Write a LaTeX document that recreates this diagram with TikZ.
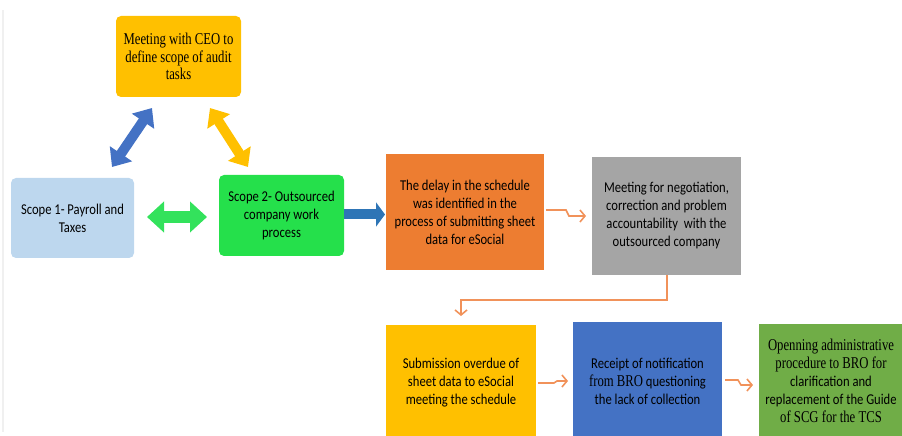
\documentclass[tikz,border=0pt]{standalone}
\usepackage{fontspec}
\setmainfont{Carlito}[FakeStretch=0.84]
\newfontfamily\tnrfont{Liberation Serif}[FakeStretch=0.77]
\newcommand\tnr{\tnrfont\fontsize{16.5}{17.5}\selectfont}
\usetikzlibrary{arrows.meta}

\definecolor{ceoYellow}{HTML}{FFC000}
\definecolor{scopeBlue}{HTML}{BDD7EE}
\definecolor{scopeGreen}{HTML}{25E04B}
\definecolor{pairGreen}{HTML}{33E25C}
\definecolor{diagBlue}{HTML}{4472C4}
\definecolor{arrowBlue}{HTML}{2E75B6}
\definecolor{delayOrange}{HTML}{ED7D31}
\definecolor{meetGray}{HTML}{A5A5A5}
\definecolor{receiptBlue}{HTML}{4472C4}
\definecolor{openGreen}{HTML}{70AD47}
\definecolor{linkOrange}{RGB}{241,146,90}

\tikzset{
  card/.style={align=center, inner sep=2pt, outer sep=0pt,
    font=\fontsize{15}{18}\selectfont},
  fat/.style={draw=#1, line width=10pt,
    {Triangle[length=16pt,width=26pt]}-{Triangle[length=16pt,width=26pt]}},
  link/.style={draw=linkOrange, line width=1.6pt,
    -{Straight Barb[length=5pt,width=12pt]}}
}

\begin{document}
\begin{tikzpicture}[x=1pt,y=1pt]
    \useasboundingbox (0,0) rectangle (902,436);
    \clip (0,0) rectangle (902,436);
    \draw[black!6, line width=1.5pt] (3,4) -- (3,426);

    \node[card, rounded corners=5pt, fill=ceoYellow, minimum width=125pt, minimum height=81pt, font=\tnr] (ceo) at (178.5,379.5) {Meeting with CEO to\\define scope of audit\\tasks};
    \node[card, rounded corners=5pt, fill=scopeBlue, minimum width=123pt, minimum height=80pt] (scope1) at (72.5,218) {Scope 1- Payroll and\\Taxes};
    \node[card, rounded corners=5pt, fill=scopeGreen, minimum width=125pt, minimum height=81pt] (scope2) at (281.5,220.5) {Scope 2- Outsourced\\company work\\process};

    \node[card, fill=delayOrange, minimum width=158pt, minimum height=116pt] (delay) at (465,224) {The delay in the schedule\\was identified in the\\process of submitting sheet\\data for eSocial};
    \node[card, fill=meetGray, minimum width=149pt, minimum height=118pt] (meet) at (666.5,220) {Meeting for negotiation,\\correction and problem\\accountability~ with the\\outsourced company};

    \node[card, fill=ceoYellow, minimum width=150pt, minimum height=116pt] (subm) at (461,53) {Submission overdue of\\sheet data to eSocial\\meeting the schedule};
    \node[card, fill=receiptBlue, minimum width=149pt, minimum height=117pt] (receipt) at (647.5,55) {Receipt of notification\\{\tnr from BRO} questioning\\the lack of collection};
    \node[card, fill=openGreen, minimum width=144pt, minimum height=114pt] (open) at (831,55) {{\tnr Openning administrative}\\{\tnr procedure to BRO for}\\clarification and\\replacement of the Guide\\{\tnr of SCG for the TCS}};

    \draw[fat=diagBlue] ([shift={(-22pt,11pt)}]scope1.north east) -- ([shift={(36pt,-11pt)}]ceo.south west);
    \draw[fat=ceoYellow] ([shift={(-31pt,-11pt)}]ceo.south east) -- ([shift={(29pt,8pt)}]scope2.north west);
    \draw[fat=pairGreen, line width=12pt, {Triangle[length=17pt,width=30pt]}-{Triangle[length=17pt,width=30pt]}] ([shift={(13pt,1pt)}]scope1.east) -- ([shift={(-12pt,-1.5pt)}]scope2.west);
    \draw[draw=arrowBlue, line width=10pt, -{Triangle[length=9pt,width=24pt]}] ([yshift=1pt]scope2.east) -- ([shift={(-1pt,-2.5pt)}]delay.west);

    \draw[link] ([shift={(2pt,2pt)}]delay.east) -- ++(20pt,0) -- ++(3pt,-6pt) -- ([xshift=-6pt]meet.west);
    \draw[link] ([xshift=0.5pt]meet.south) -- ++(0,-25pt) -| ([yshift=9pt]subm.north);
    \draw[link] ([xshift=2pt]subm.east) -- ++(16pt,0) -- ++(3pt,2pt) -- ([shift={(-5pt,0pt)}]receipt.west);
    \draw[link] ([shift={(3pt,1pt)}]receipt.east) -- ++(13pt,0) -- ++(3pt,-5pt) -- ([shift={(-6pt,-4pt)}]open.west);

\end{tikzpicture}
\end{document}
